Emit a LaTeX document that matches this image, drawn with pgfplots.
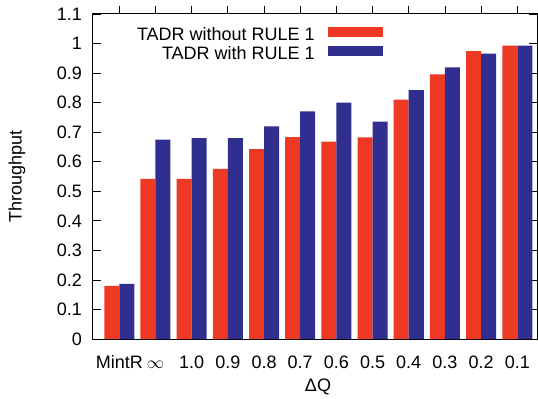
\documentclass[border=0pt]{standalone}
\usepackage{fontspec}
\setmainfont{Liberation Sans}
\usepackage{pgfplots}
\pgfplotsset{compat=1.18}
\definecolor{cred}{HTML}{EE3A24}
\definecolor{cblue}{HTML}{302E8F}
\pgfplotstableread{
x red blue
0 0.180 0.187
1 0.542 0.675
2 0.542 0.680
3 0.576 0.680
4 0.643 0.720
5 0.683 0.770
6 0.668 0.800
7 0.682 0.736
8 0.810 0.842
9 0.896 0.919
10 0.974 0.966
11 0.993 0.993
}\datatable
\begin{document}
\fontsize{18bp}{21bp}\selectfont
\begin{tikzpicture}
\useasboundingbox (-93bp,-60bp) rectangle (445bp,339bp);
\begin{axis}[
  at={(0,0)}, anchor=south west,
  scale only axis, width=444bp, height=325bp,
  ybar, bar width=0.415,
  xmin=-0.727, xmax=11.545, ymin=0, ymax=1.1,
  xtick={0,1,2,3,4,5,6,7,8,9,10,11},
  xticklabels={MintR,$\infty$,1.0,0.9,0.8,0.7,0.6,0.5,0.4,0.3,0.2,0.1},
  xtick pos=upper, xticklabel pos=lower,
  ytick={0,0.1,0.2,0.3,0.4,0.5,0.6,0.7,0.8,0.9,1.0,1.1},
  yticklabels={0,0.1,0.2,0.3,0.4,0.5,0.6,0.7,0.8,0.9,1,1.1},
  ytick pos=both, yticklabel pos=left,
  /pgf/number format/assume math mode=true,
  major tick length=8bp,
  tick style={black, line width=0.8bp},
  axis line style={line width=1bp},
  yticklabel style={xshift=-5bp},
  xticklabel style={yshift=-2bp, text height=13bp, text depth=3bp},
  xlabel={ΔQ}, ylabel={Throughput},
  xlabel style={at={(axis description cs:0.5,0)}, anchor=center, yshift=-48bp, xshift=3bp},
  ylabel style={at={(axis description cs:-0.171,0.5)}, anchor=center},
  legend style={at={(rel axis cs:0.653,0.962)}, anchor=north east, draw=none, fill=none,
    inner sep=0pt, column sep=12bp, row sep=0bp,
    nodes={inner sep=1bp, text height=13bp, text depth=4bp}},
  legend cell align=right,
  legend plot pos=right,
  legend image code/.code={\fill[#1] (0bp,-0.5bp) rectangle (55bp,9.5bp);},
]
\addplot[draw=none, fill=cred, bar shift=-0.2075] table[x=x, y=red] {\datatable};
\addplot[draw=none, fill=cblue, bar shift=0.2075] table[x=x, y=blue] {\datatable};
\legend{TADR without RULE 1, TADR with RULE 1}
\end{axis}
\end{tikzpicture}
\end{document}
